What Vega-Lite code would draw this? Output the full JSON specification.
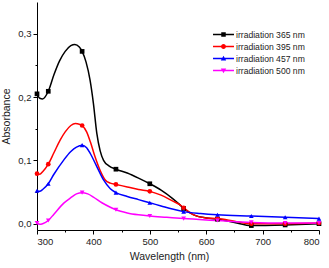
{
  "$schema": "https://vega.github.io/schema/vega-lite/v6.json",
  "width": 282,
  "height": 228,
  "autosize": {"type": "none"},
  "padding": {"left": 37, "top": 2, "right": 10, "bottom": 38},
  "background": "white",
  "config": {
    "view": {"stroke": null},
    "font": "Liberation Sans",
    "axis": {"domainColor": "#000", "tickColor": "#000", "labelColor": "#222", "titleColor": "#222", "grid": false, "labelFont": "Liberation Sans", "titleFont": "Liberation Sans", "titleFontWeight": "normal", "domainWidth": 1, "tickWidth": 1}
  },
  "datasets": {
    "curve": [
      {"series": "irradiation 365 nm", "wl": 300, "abs": 0.205},
      {"series": "irradiation 365 nm", "wl": 305, "abs": 0.198},
      {"series": "irradiation 365 nm", "wl": 310, "abs": 0.197},
      {"series": "irradiation 365 nm", "wl": 320, "abs": 0.209},
      {"series": "irradiation 365 nm", "wl": 330, "abs": 0.235},
      {"series": "irradiation 365 nm", "wl": 340, "abs": 0.257},
      {"series": "irradiation 365 nm", "wl": 350, "abs": 0.272},
      {"series": "irradiation 365 nm", "wl": 360, "abs": 0.281},
      {"series": "irradiation 365 nm", "wl": 367, "abs": 0.283},
      {"series": "irradiation 365 nm", "wl": 375, "abs": 0.279},
      {"series": "irradiation 365 nm", "wl": 380, "abs": 0.272},
      {"series": "irradiation 365 nm", "wl": 387, "abs": 0.255},
      {"series": "irradiation 365 nm", "wl": 394, "abs": 0.227},
      {"series": "irradiation 365 nm", "wl": 400, "abs": 0.190},
      {"series": "irradiation 365 nm", "wl": 406, "abs": 0.143},
      {"series": "irradiation 365 nm", "wl": 412, "abs": 0.115},
      {"series": "irradiation 365 nm", "wl": 418, "abs": 0.100},
      {"series": "irradiation 365 nm", "wl": 428, "abs": 0.091},
      {"series": "irradiation 365 nm", "wl": 440, "abs": 0.086},
      {"series": "irradiation 365 nm", "wl": 460, "abs": 0.080},
      {"series": "irradiation 365 nm", "wl": 480, "abs": 0.072},
      {"series": "irradiation 365 nm", "wl": 500, "abs": 0.063},
      {"series": "irradiation 365 nm", "wl": 520, "abs": 0.053},
      {"series": "irradiation 365 nm", "wl": 540, "abs": 0.040},
      {"series": "irradiation 365 nm", "wl": 553, "abs": 0.030},
      {"series": "irradiation 365 nm", "wl": 560, "abs": 0.024},
      {"series": "irradiation 365 nm", "wl": 580, "abs": 0.013},
      {"series": "irradiation 365 nm", "wl": 600, "abs": 0.009},
      {"series": "irradiation 365 nm", "wl": 620, "abs": 0.007},
      {"series": "irradiation 365 nm", "wl": 650, "abs": 0.002},
      {"series": "irradiation 365 nm", "wl": 680, "abs": -0.003},
      {"series": "irradiation 365 nm", "wl": 740, "abs": -0.002},
      {"series": "irradiation 365 nm", "wl": 800, "abs": 0.000},
      {"series": "irradiation 395 nm", "wl": 300, "abs": 0.079},
      {"series": "irradiation 395 nm", "wl": 305, "abs": 0.078},
      {"series": "irradiation 395 nm", "wl": 310, "abs": 0.082},
      {"series": "irradiation 395 nm", "wl": 320, "abs": 0.094},
      {"series": "irradiation 395 nm", "wl": 330, "abs": 0.112},
      {"series": "irradiation 395 nm", "wl": 341, "abs": 0.132},
      {"series": "irradiation 395 nm", "wl": 350, "abs": 0.145},
      {"series": "irradiation 395 nm", "wl": 360, "abs": 0.155},
      {"series": "irradiation 395 nm", "wl": 368, "abs": 0.158},
      {"series": "irradiation 395 nm", "wl": 375, "abs": 0.157},
      {"series": "irradiation 395 nm", "wl": 380, "abs": 0.155},
      {"series": "irradiation 395 nm", "wl": 388, "abs": 0.145},
      {"series": "irradiation 395 nm", "wl": 395, "abs": 0.128},
      {"series": "irradiation 395 nm", "wl": 402, "abs": 0.108},
      {"series": "irradiation 395 nm", "wl": 412, "abs": 0.084},
      {"series": "irradiation 395 nm", "wl": 421, "abs": 0.069},
      {"series": "irradiation 395 nm", "wl": 430, "abs": 0.064},
      {"series": "irradiation 395 nm", "wl": 440, "abs": 0.062},
      {"series": "irradiation 395 nm", "wl": 460, "abs": 0.058},
      {"series": "irradiation 395 nm", "wl": 480, "abs": 0.054},
      {"series": "irradiation 395 nm", "wl": 500, "abs": 0.051},
      {"series": "irradiation 395 nm", "wl": 520, "abs": 0.045},
      {"series": "irradiation 395 nm", "wl": 540, "abs": 0.036},
      {"series": "irradiation 395 nm", "wl": 553, "abs": 0.030},
      {"series": "irradiation 395 nm", "wl": 560, "abs": 0.025},
      {"series": "irradiation 395 nm", "wl": 580, "abs": 0.013},
      {"series": "irradiation 395 nm", "wl": 600, "abs": 0.009},
      {"series": "irradiation 395 nm", "wl": 620, "abs": 0.008},
      {"series": "irradiation 395 nm", "wl": 650, "abs": 0.004},
      {"series": "irradiation 395 nm", "wl": 680, "abs": 0.000},
      {"series": "irradiation 395 nm", "wl": 740, "abs": 0.000},
      {"series": "irradiation 395 nm", "wl": 800, "abs": 0.001},
      {"series": "irradiation 457 nm", "wl": 300, "abs": 0.052},
      {"series": "irradiation 457 nm", "wl": 305, "abs": 0.051},
      {"series": "irradiation 457 nm", "wl": 310, "abs": 0.054},
      {"series": "irradiation 457 nm", "wl": 320, "abs": 0.063},
      {"series": "irradiation 457 nm", "wl": 330, "abs": 0.078},
      {"series": "irradiation 457 nm", "wl": 347, "abs": 0.100},
      {"series": "irradiation 457 nm", "wl": 360, "abs": 0.114},
      {"series": "irradiation 457 nm", "wl": 370, "abs": 0.121},
      {"series": "irradiation 457 nm", "wl": 380, "abs": 0.124},
      {"series": "irradiation 457 nm", "wl": 388, "abs": 0.120},
      {"series": "irradiation 457 nm", "wl": 395, "abs": 0.110},
      {"series": "irradiation 457 nm", "wl": 405, "abs": 0.092},
      {"series": "irradiation 457 nm", "wl": 418, "abs": 0.069},
      {"series": "irradiation 457 nm", "wl": 430, "abs": 0.055},
      {"series": "irradiation 457 nm", "wl": 440, "abs": 0.049},
      {"series": "irradiation 457 nm", "wl": 460, "abs": 0.043},
      {"series": "irradiation 457 nm", "wl": 480, "abs": 0.038},
      {"series": "irradiation 457 nm", "wl": 500, "abs": 0.033},
      {"series": "irradiation 457 nm", "wl": 520, "abs": 0.028},
      {"series": "irradiation 457 nm", "wl": 540, "abs": 0.023},
      {"series": "irradiation 457 nm", "wl": 560, "abs": 0.019},
      {"series": "irradiation 457 nm", "wl": 590, "abs": 0.016},
      {"series": "irradiation 457 nm", "wl": 620, "abs": 0.014},
      {"series": "irradiation 457 nm", "wl": 680, "abs": 0.012},
      {"series": "irradiation 457 nm", "wl": 740, "abs": 0.010},
      {"series": "irradiation 457 nm", "wl": 800, "abs": 0.008},
      {"series": "irradiation 500 nm", "wl": 300, "abs": 0.001},
      {"series": "irradiation 500 nm", "wl": 305, "abs": -0.001},
      {"series": "irradiation 500 nm", "wl": 310, "abs": 0.000},
      {"series": "irradiation 500 nm", "wl": 320, "abs": 0.005},
      {"series": "irradiation 500 nm", "wl": 330, "abs": 0.015},
      {"series": "irradiation 500 nm", "wl": 347, "abs": 0.032},
      {"series": "irradiation 500 nm", "wl": 360, "abs": 0.041},
      {"series": "irradiation 500 nm", "wl": 370, "abs": 0.047},
      {"series": "irradiation 500 nm", "wl": 380, "abs": 0.049},
      {"series": "irradiation 500 nm", "wl": 390, "abs": 0.047},
      {"series": "irradiation 500 nm", "wl": 400, "abs": 0.042},
      {"series": "irradiation 500 nm", "wl": 415, "abs": 0.033},
      {"series": "irradiation 500 nm", "wl": 430, "abs": 0.026},
      {"series": "irradiation 500 nm", "wl": 440, "abs": 0.022},
      {"series": "irradiation 500 nm", "wl": 460, "abs": 0.017},
      {"series": "irradiation 500 nm", "wl": 480, "abs": 0.014},
      {"series": "irradiation 500 nm", "wl": 500, "abs": 0.012},
      {"series": "irradiation 500 nm", "wl": 530, "abs": 0.010},
      {"series": "irradiation 500 nm", "wl": 560, "abs": 0.008},
      {"series": "irradiation 500 nm", "wl": 620, "abs": 0.005},
      {"series": "irradiation 500 nm", "wl": 680, "abs": 0.002},
      {"series": "irradiation 500 nm", "wl": 740, "abs": 0.001},
      {"series": "irradiation 500 nm", "wl": 800, "abs": 0.001}
    ],
    "markers": [
      {"series": "irradiation 365 nm", "wl": 300, "abs": 0.205},
      {"series": "irradiation 365 nm", "wl": 320, "abs": 0.209},
      {"series": "irradiation 365 nm", "wl": 380, "abs": 0.272},
      {"series": "irradiation 365 nm", "wl": 440, "abs": 0.086},
      {"series": "irradiation 365 nm", "wl": 500, "abs": 0.063},
      {"series": "irradiation 365 nm", "wl": 560, "abs": 0.024},
      {"series": "irradiation 365 nm", "wl": 620, "abs": 0.007},
      {"series": "irradiation 365 nm", "wl": 680, "abs": -0.003},
      {"series": "irradiation 365 nm", "wl": 740, "abs": -0.002},
      {"series": "irradiation 365 nm", "wl": 800, "abs": 0.000},
      {"series": "irradiation 395 nm", "wl": 300, "abs": 0.079},
      {"series": "irradiation 395 nm", "wl": 320, "abs": 0.094},
      {"series": "irradiation 395 nm", "wl": 380, "abs": 0.155},
      {"series": "irradiation 395 nm", "wl": 440, "abs": 0.062},
      {"series": "irradiation 395 nm", "wl": 500, "abs": 0.051},
      {"series": "irradiation 395 nm", "wl": 560, "abs": 0.025},
      {"series": "irradiation 395 nm", "wl": 620, "abs": 0.008},
      {"series": "irradiation 395 nm", "wl": 680, "abs": 0.000},
      {"series": "irradiation 395 nm", "wl": 740, "abs": 0.000},
      {"series": "irradiation 395 nm", "wl": 800, "abs": 0.001},
      {"series": "irradiation 457 nm", "wl": 300, "abs": 0.052},
      {"series": "irradiation 457 nm", "wl": 320, "abs": 0.063},
      {"series": "irradiation 457 nm", "wl": 380, "abs": 0.124},
      {"series": "irradiation 457 nm", "wl": 440, "abs": 0.049},
      {"series": "irradiation 457 nm", "wl": 500, "abs": 0.033},
      {"series": "irradiation 457 nm", "wl": 560, "abs": 0.019},
      {"series": "irradiation 457 nm", "wl": 620, "abs": 0.014},
      {"series": "irradiation 457 nm", "wl": 680, "abs": 0.012},
      {"series": "irradiation 457 nm", "wl": 740, "abs": 0.010},
      {"series": "irradiation 457 nm", "wl": 800, "abs": 0.008},
      {"series": "irradiation 500 nm", "wl": 300, "abs": 0.001},
      {"series": "irradiation 500 nm", "wl": 320, "abs": 0.005},
      {"series": "irradiation 500 nm", "wl": 380, "abs": 0.049},
      {"series": "irradiation 500 nm", "wl": 440, "abs": 0.022},
      {"series": "irradiation 500 nm", "wl": 500, "abs": 0.012},
      {"series": "irradiation 500 nm", "wl": 560, "abs": 0.008},
      {"series": "irradiation 500 nm", "wl": 620, "abs": 0.005},
      {"series": "irradiation 500 nm", "wl": 680, "abs": 0.002},
      {"series": "irradiation 500 nm", "wl": 740, "abs": 0.001},
      {"series": "irradiation 500 nm", "wl": 800, "abs": 0.001}
    ]
  },
  "encoding": {
    "x": {
      "field": "wl", "type": "quantitative",
      "scale": {"domain": [300, 800], "nice": false, "zero": false},
      "axis": {
        "title": "Wavelength (nm)",
        "values": [300, 350, 400, 450, 500, 550, 600, 650, 700, 750, 800],
        "labelExpr": "datum.value % 100 == 0 ? datum.label : ''",
        "tickSize": {"condition": {"test": "datum.value % 100 == 0", "value": 4}, "value": 2},
        "labelFontSize": 9.5, "labelPadding": 2,
        "titleFontSize": 10.5, "titlePadding": 6,
        "titleX": 132, "titleAnchor": null, "titleAlign": "center"
      }
    },
    "y": {
      "field": "abs", "type": "quantitative",
      "scale": {"domain": [-0.01, 0.35], "nice": false, "zero": false},
      "axis": {
        "title": "Absorbance",
        "values": [0, 0.05, 0.1, 0.15, 0.2, 0.25, 0.3],
        "labelExpr": "abs(datum.value * 10 - round(datum.value * 10)) < 0.001 ? replace(format(datum.value, '.1f'), '.', ',') : ''",
        "tickSize": {"condition": {"test": "abs(datum.value * 10 - round(datum.value * 10)) < 0.001", "value": 4}, "value": 2},
        "labelFontSize": 9.5, "labelPadding": 2,
        "titleFontSize": 10.5, "titlePadding": 6
      }
    },
    "color": {
      "field": "series", "type": "nominal",
      "scale": {"domain": ["irradiation 365 nm", "irradiation 395 nm", "irradiation 457 nm", "irradiation 500 nm"], "range": ["#000000", "#ff0000", "#0000ff", "#ff00ff"]}
    }
  },
  "layer": [
    {
      "data": {"name": "curve"},
      "mark": {"type": "line", "interpolate": "monotone", "strokeWidth": 1.5},
      "encoding": {
        "color": {"field": "series", "type": "nominal", "legend": null,
          "scale": {"domain": ["irradiation 365 nm", "irradiation 395 nm", "irradiation 457 nm", "irradiation 500 nm"], "range": ["#000000", "#ff0000", "#0000ff", "#ff00ff"]}}
      }
    },
    {
      "data": {"name": "markers"},
      "mark": {"type": "point", "filled": true, "opacity": 1, "size": 22},
      "encoding": {
        "color": {"field": "series", "type": "nominal", "legend": null,
          "scale": {"domain": ["irradiation 365 nm", "irradiation 395 nm", "irradiation 457 nm", "irradiation 500 nm"], "range": ["#000000", "#ff0000", "#0000ff", "#ff00ff"]}},
        "shape": {"field": "series", "type": "nominal", "legend": null,
          "scale": {"domain": ["irradiation 365 nm", "irradiation 395 nm", "irradiation 457 nm", "irradiation 500 nm"], "range": ["square", "circle", "triangle-up", "triangle-down"]}}
      }
    },
    {
      "data": {"name": "markers"},
      "mark": {"type": "point", "filled": true, "opacity": 0, "size": 81},
      "encoding": {
        "color": {"field": "series", "type": "nominal",
          "scale": {"domain": ["irradiation 365 nm", "irradiation 395 nm", "irradiation 457 nm", "irradiation 500 nm"], "range": ["#000000", "#ff0000", "#0000ff", "#ff00ff"]},
          "legend": {"title": null, "orient": "none", "legendX": 182, "legendY": 28, "symbolOpacity": 1, "symbolSize": 81, "labelFontSize": 8.6, "labelFont": "Liberation Sans", "labelColor": "#222", "labelOffset": 8, "rowPadding": 2, "padding": 0, "symbolStrokeWidth": 0}},
        "shape": {"field": "series", "type": "nominal",
          "scale": {"domain": ["irradiation 365 nm", "irradiation 395 nm", "irradiation 457 nm", "irradiation 500 nm"], "range": [
            "M-2.33,-0.17H2.33V0.17H-2.33ZM-0.5,-0.5H0.5V0.5H-0.5Z",
            "M-2.33,-0.17H2.33V0.17H-2.33ZM-0.55,0A0.55,0.55,0,1,1,0.55,0A0.55,0.55,0,1,1,-0.55,0Z",
            "M-2.33,-0.17H2.33V0.17H-2.33ZM0,-0.6L0.6,0.45H-0.6Z",
            "M-2.33,-0.17H2.33V0.17H-2.33ZM0,0.6L-0.6,-0.45H0.6Z"
          ]},
          "legend": {"title": null, "orient": "none", "legendX": 182, "legendY": 28, "symbolOpacity": 1, "symbolSize": 81, "labelFontSize": 8.6, "labelFont": "Liberation Sans", "labelColor": "#222", "labelOffset": 8, "rowPadding": 2, "padding": 0, "symbolStrokeWidth": 0}}
      }
    }
  ],
  "resolve": {"scale": {"color": "independent", "shape": "independent"}}
}
